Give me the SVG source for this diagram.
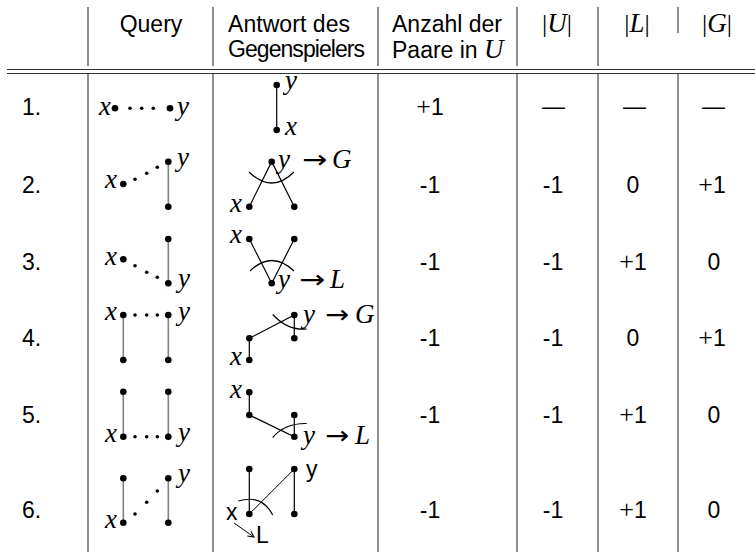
<svg xmlns="http://www.w3.org/2000/svg" width="755" height="552" viewBox="0 0 755 552">
<defs>
<style>
.t{font-family:"Liberation Sans",Arial,sans-serif;font-size:23px;fill:#000}
.m{font-family:"Liberation Serif","Times New Roman",serif;font-style:italic;font-size:27px;fill:#000}
.mu{font-family:"Liberation Serif","Times New Roman",serif;font-size:26px;fill:#000}
.ar{font-family:"DejaVu Sans",sans-serif;font-size:25px;fill:#000}
.grid{stroke:#333;stroke-width:1.1;fill:none}
.q{stroke:#808080;stroke-width:1.6;fill:none}
.a{stroke:#000;stroke-width:1.2;fill:none}
.bd{fill:#000}
</style>
<marker id="ah" viewBox="0 0 8 8" refX="7" refY="4" markerWidth="8" markerHeight="8" markerUnits="userSpaceOnUse" orient="auto">
<path d="M1,1 L7,4 L1,7" fill="none" stroke="#000" stroke-width="1"/>
</marker>
</defs>
<rect width="755" height="552" fill="#fff"/>

<g id="table-grid" class="grid">
<line x1="88" y1="7" x2="88" y2="66"/>
<line x1="213" y1="7" x2="213" y2="66"/>
<line x1="378" y1="7" x2="378" y2="66"/>
<line x1="517" y1="7" x2="517" y2="66"/>
<line x1="598" y1="7" x2="598" y2="66"/>
<line x1="678" y1="7" x2="678" y2="33"/>
<line x1="7" y1="69.5" x2="755" y2="69.5"/>
<line x1="7" y1="73.5" x2="755" y2="73.5"/>
<line x1="88" y1="74" x2="88" y2="552"/>
<line x1="213" y1="74" x2="213" y2="552"/>
<line x1="378" y1="74" x2="378" y2="552"/>
<line x1="517" y1="74" x2="517" y2="552"/>
<line x1="598" y1="74" x2="598" y2="552"/>
<line x1="678" y1="74" x2="678" y2="552"/>
</g>

<g id="header">
<text class="t" x="151" y="32" text-anchor="middle">Query</text>
<text class="t" x="228" y="32" textLength="122">Antwort des</text>
<text class="t" x="228" y="57" textLength="137">Gegenspielers</text>
<text class="t" x="392" y="32">Anzahl der</text>
<text class="t" x="392" y="58">Paare in <tspan class="m">U</tspan></text>
<text class="mu" x="557" y="32" text-anchor="middle">|<tspan class="m">U</tspan>|</text>
<text class="mu" x="637" y="32" text-anchor="middle">|<tspan class="m">L</tspan>|</text>
<text class="mu" x="717" y="32" text-anchor="middle">|<tspan class="m">G</tspan>|</text>
</g>

<g id="row-labels" class="t">
<text x="22" y="115">1.</text>
<text x="22" y="193">2.</text>
<text x="22" y="270">3.</text>
<text x="22" y="346">4.</text>
<text x="22" y="423">5.</text>
<text x="22" y="518">6.</text>
</g>

<g id="values" class="t" text-anchor="middle">
<text x="430" y="115"><tspan class="mu">+</tspan>1</text>
<text x="553.5" y="114">—</text>
<text x="634.5" y="114">—</text>
<text x="713.5" y="114">—</text>
<text x="430" y="193">-1</text>
<text x="553" y="193">-1</text>
<text x="633" y="193">0</text>
<text x="712" y="193"><tspan class="mu">+</tspan>1</text>
<text x="430" y="270">-1</text>
<text x="553" y="270">-1</text>
<text x="633" y="270"><tspan class="mu">+</tspan>1</text>
<text x="714" y="270">0</text>
<text x="430" y="346">-1</text>
<text x="553" y="346">-1</text>
<text x="633" y="346">0</text>
<text x="712" y="346"><tspan class="mu">+</tspan>1</text>
<text x="430" y="423">-1</text>
<text x="553" y="423">-1</text>
<text x="633" y="423"><tspan class="mu">+</tspan>1</text>
<text x="714" y="423">0</text>
<text x="430" y="518">-1</text>
<text x="553" y="518">-1</text>
<text x="633" y="518"><tspan class="mu">+</tspan>1</text>
<text x="714" y="518">0</text>
</g>

<g id="connectors">
<g class="q">
<line x1="168.3" y1="161.7" x2="168.3" y2="206.7"/>
<line x1="168.3" y1="239" x2="168.3" y2="283.3"/>
<line x1="123.3" y1="315" x2="123.3" y2="360"/>
<line x1="168.3" y1="315" x2="168.3" y2="360"/>
<line x1="123.3" y1="391.7" x2="123.3" y2="436.7"/>
<line x1="168.3" y1="391.7" x2="168.3" y2="436.7"/>
<line x1="123.3" y1="478.3" x2="123.3" y2="522.7"/>
<line x1="168.3" y1="478.3" x2="168.3" y2="522.7"/>
</g>
<g class="a">
<line x1="276.7" y1="85" x2="276.7" y2="130"/>
<path d="M249.3,206.7 L271.7,161.7 L294.3,206.7"/>
<path d="M249,172 Q272,194 294,172"/>
<path d="M249.3,239 L271.7,283.3 L294.3,239"/>
<path d="M250,271 Q272,250 294,271"/>
<path d="M249.3,360 L249.3,338.3 L294.3,315 L294.3,338.3"/>
<path d="M272.7,314.5 Q288,331 306.7,329"/>
<path d="M249.3,392.3 L249.3,415 L294.3,436.7 L294.3,415"/>
<path d="M272.7,437.5 Q285,423 306.7,423.5"/>
<line x1="249.3" y1="469" x2="249.3" y2="514"/>
<line x1="294.3" y1="469" x2="294.3" y2="514"/>
<line x1="249.3" y1="514" x2="294.3" y2="469" stroke-width="1"/>
<path d="M238.3,501 Q262,494 272.7,515"/>
<line x1="234" y1="523" x2="254" y2="537" stroke-width="1" marker-end="url(#ah)"/>
</g>
</g>

<g id="row1">
<g id="q1">
<circle class="bd" cx="115" cy="108.3" r="3.3"/>
<circle class="bd" cx="130" cy="108.3" r="1.8"/>
<circle class="bd" cx="141.7" cy="108.3" r="1.8"/>
<circle class="bd" cx="153.3" cy="108.3" r="1.8"/>
<circle class="bd" cx="170" cy="108.3" r="3.3"/>
<text class="m" x="111" y="115" text-anchor="end">x</text>
<text class="m" x="177" y="115">y</text>
</g>
<g id="a1">
<circle class="bd" cx="276.7" cy="85" r="3.3"/>
<circle class="bd" cx="276.7" cy="130" r="3.3"/>
<text class="m" x="285" y="89">y</text>
<text class="m" x="285" y="135">x</text>
</g>
</g>

<g id="row2">
<g id="q2">
<circle class="bd" cx="123.3" cy="184" r="3.3"/>
<circle class="bd" cx="135" cy="179.3" r="1.8"/>
<circle class="bd" cx="146.7" cy="173.3" r="1.8"/>
<circle class="bd" cx="157.3" cy="167.3" r="1.8"/>
<circle class="bd" cx="168.3" cy="161.7" r="3.3"/>
<circle class="bd" cx="168.3" cy="206.7" r="3.3"/>
<text class="m" x="117" y="188" text-anchor="end">x</text>
<text class="m" x="177" y="166">y</text>
</g>
<g id="a2">
<circle class="bd" cx="271.7" cy="161.7" r="3.3"/>
<circle class="bd" cx="249.3" cy="206.7" r="3.3"/>
<circle class="bd" cx="294.3" cy="206.7" r="3.3"/>
<text class="m" x="242" y="212" text-anchor="end">x</text>
<text class="m" x="278" y="168">y</text>
<text class="ar" x="302" y="168" textLength="25" lengthAdjust="spacingAndGlyphs">→</text>
<text class="m" x="332" y="168">G</text>
</g>
</g>

<g id="row3">
<g id="q3">
<circle class="bd" cx="123.3" cy="259.3" r="3.3"/>
<circle class="bd" cx="135" cy="265.7" r="1.8"/>
<circle class="bd" cx="146.7" cy="272.3" r="1.8"/>
<circle class="bd" cx="157.3" cy="277.3" r="1.8"/>
<circle class="bd" cx="168.3" cy="239" r="3.3"/>
<circle class="bd" cx="168.3" cy="283.3" r="3.3"/>
<text class="m" x="117" y="265" text-anchor="end">x</text>
<text class="m" x="178" y="287">y</text>
</g>
<g id="a3">
<circle class="bd" cx="249.3" cy="239" r="3.3"/>
<circle class="bd" cx="294.3" cy="239" r="3.3"/>
<circle class="bd" cx="271.7" cy="283.3" r="3.3"/>
<text class="m" x="242" y="243" text-anchor="end">x</text>
<text class="m" x="278" y="288">y</text>
<text class="ar" x="299" y="288" textLength="26" lengthAdjust="spacingAndGlyphs">→</text>
<text class="m" x="330" y="288">L</text>
</g>
</g>

<g id="row4">
<g id="q4">
<circle class="bd" cx="123.3" cy="315" r="3.3"/>
<circle class="bd" cx="135" cy="315" r="1.8"/>
<circle class="bd" cx="146.7" cy="315" r="1.8"/>
<circle class="bd" cx="157.3" cy="315" r="1.8"/>
<circle class="bd" cx="168.3" cy="315" r="3.3"/>
<circle class="bd" cx="123.3" cy="360" r="3.3"/>
<circle class="bd" cx="168.3" cy="360" r="3.3"/>
<text class="m" x="117" y="320" text-anchor="end">x</text>
<text class="m" x="178" y="320">y</text>
</g>
<g id="a4">
<circle class="bd" cx="249.3" cy="338.3" r="3.3"/>
<circle class="bd" cx="249.3" cy="360" r="3.3"/>
<circle class="bd" cx="294.3" cy="315" r="3.3"/>
<circle class="bd" cx="294.3" cy="338.3" r="3.3"/>
<text class="m" x="242" y="365" text-anchor="end">x</text>
<text class="m" x="303" y="323">y</text>
<text class="ar" x="325" y="323" textLength="24" lengthAdjust="spacingAndGlyphs">→</text>
<text class="m" x="355" y="323">G</text>
</g>
</g>

<g id="row5">
<g id="q5">
<circle class="bd" cx="123.3" cy="391.7" r="3.3"/>
<circle class="bd" cx="168.3" cy="391.7" r="3.3"/>
<circle class="bd" cx="123.3" cy="436.7" r="3.3"/>
<circle class="bd" cx="135" cy="436.7" r="1.8"/>
<circle class="bd" cx="146.7" cy="436.7" r="1.8"/>
<circle class="bd" cx="157.3" cy="436.7" r="1.8"/>
<circle class="bd" cx="168.3" cy="436.7" r="3.3"/>
<text class="m" x="117" y="442" text-anchor="end">x</text>
<text class="m" x="178" y="441">y</text>
</g>
<g id="a5">
<circle class="bd" cx="249.3" cy="392.3" r="3.3"/>
<circle class="bd" cx="249.3" cy="415" r="3.3"/>
<circle class="bd" cx="294.3" cy="415" r="3.3"/>
<circle class="bd" cx="294.3" cy="436.7" r="3.3"/>
<text class="m" x="242" y="398" text-anchor="end">x</text>
<text class="m" x="303" y="444">y</text>
<text class="ar" x="325" y="444" textLength="24" lengthAdjust="spacingAndGlyphs">→</text>
<text class="m" x="355" y="444">L</text>
</g>
</g>

<g id="row6">
<g id="q6">
<circle class="bd" cx="123.3" cy="478.3" r="3.3"/>
<circle class="bd" cx="168.3" cy="478.3" r="3.3"/>
<circle class="bd" cx="123.3" cy="522.7" r="3.3"/>
<circle class="bd" cx="168.3" cy="522.7" r="3.3"/>
<circle class="bd" cx="135" cy="514" r="1.8"/>
<circle class="bd" cx="146.7" cy="502.3" r="1.8"/>
<circle class="bd" cx="157.3" cy="491" r="1.8"/>
<text class="m" x="117" y="528" text-anchor="end">x</text>
<text class="m" x="178" y="482">y</text>
</g>
<g id="a6">
<circle class="bd" cx="249.3" cy="469" r="3.3"/>
<circle class="bd" cx="249.3" cy="514" r="3.3"/>
<circle class="bd" cx="294.3" cy="469" r="3.3"/>
<circle class="bd" cx="294.3" cy="514" r="3.3"/>
<text class="t" x="306" y="477">y</text>
<text class="t" x="226" y="520">x</text>
<text class="t" x="256" y="543">L</text>
</g>
</g>
</svg>
